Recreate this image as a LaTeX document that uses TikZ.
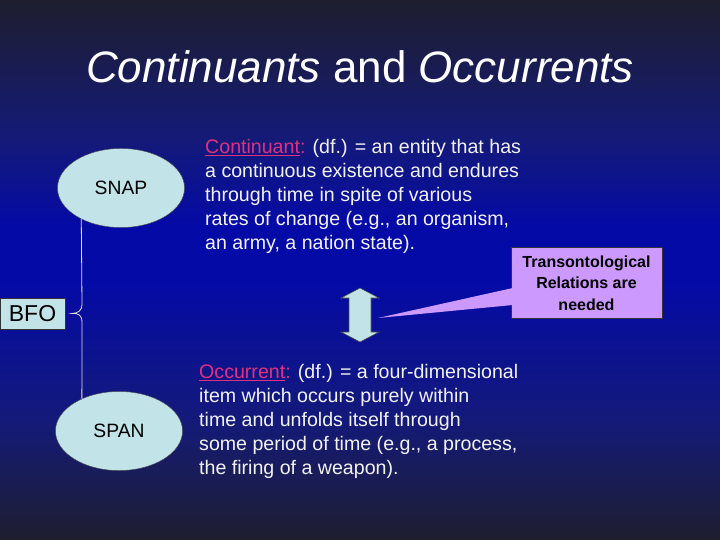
\documentclass[tikz,border=0pt]{standalone}
\usepackage{fontspec}
\setmainfont{Liberation Sans}
\usetikzlibrary{shapes.geometric,calc}
\definecolor{bgdark}{RGB}{30,30,46}
\definecolor{bgmid}{RGB}{20,26,120}
\definecolor{bgblue}{RGB}{4,10,166}
\definecolor{palecyan}{RGB}{194,228,232}
\definecolor{lilac}{RGB}{204,153,255}
\definecolor{defpink}{RGB}{226,48,128}
\definecolor{slidetext}{RGB}{242,242,242}
\pgfdeclareverticalshading{slidebg}{100bp}{color(0bp)=(bgdark); color(25bp)=(bgdark); color(36bp)=(bgmid); color(49bp)=(bgblue); color(54bp)=(bgblue); color(62bp)=(bgmid); color(75bp)=(bgdark); color(100bp)=(bgdark)}
\newcommand\defword[1]{{\color{defpink}\underline{#1}:}}
\begin{document}
\begin{tikzpicture}[x=1bp,y=-1bp,
    every node/.style={font=\fontsize{19.3bp}{24bp}\selectfont},
    slidetitle/.style={text=white,font=\fontsize{44bp}{48bp}\selectfont},
    bubble/.style={ellipse,draw=black!70,fill=palecyan,text=black,inner sep=0pt,
      minimum width=127bp,minimum height=79bp},
    rootbox/.style={draw=black!80,fill=palecyan,text=black,inner sep=0pt,
      minimum width=65bp,minimum height=31bp,font=\fontsize{23bp}{26bp}\selectfont},
    deftext/.style={anchor=north west,align=left,inner sep=0pt,text=slidetext,
      font=\fontsize{19.6bp}{24bp}\selectfont},
    note/.style={draw=black!80,fill=lilac,text=black,align=center,inner sep=0pt,
      minimum width=151bp,minimum height=71bp,font=\bfseries\fontsize{16bp}{21.5bp}\selectfont},
    bracket/.style={draw=black!12,line width=0.8bp}]
  \shade[shading=slidebg] (0,0) rectangle (720,540);
  \useasboundingbox (0,0) rectangle (720,540);

  \node[slidetitle] (title) at (360,67) {\itshape Continuants\/ \upshape and \itshape Occurrents};

  % the two ontologies
  \node[bubble] (snap) at (121,188) {SNAP};
  \node[bubble] (span) at (119,431) {SPAN};
  \node[rootbox] (bfo) at (32.5,313.5) {BFO};
  \coordinate (tip) at ($(bfo.east)+(7,0)$);
  \draw[bracket] (snap.218) -- (82,304) .. controls (82,311) and (78,313) .. (tip)
    .. controls (78,313) and (82,315) .. (82,322) -- (span.139);

  % definitions
  \node[deftext] (cont) at (205,139) {\defword{Continuant} (df.) = an entity that has\\
    a continuous existence and endures\\
    through time in spite of various\\
    rates of change (e.g., an organism,\\
    an army, a nation state).};
  \node[deftext] (occ) at (199,364) {\defword{Occurrent} (df.) = a four-dimensional\\
    item which occurs purely within\\
    time and unfolds itself through\\
    some period of time (e.g., a process,\\
    the firing of a weapon).};

  % relation between them
  \filldraw[fill=palecyan,draw=black!70,line width=0.6bp] (360,288) -- (379,298) -- (371,298)
    -- (371,332) -- (379,332) -- (360,342) -- (341,332) -- (349,332) -- (349,298)
    -- (341,298) -- cycle;
  \coordinate (link) at (378,318);
  \node[note] (callout) at (586.5,283) {Transontological\\Relations are\\needed};
  \fill[lilac] ($(callout.west |- 0,288)+(2,0)$) -- (link) -- ($(callout.west |- 0,305)+(2,0)$) -- cycle;
\end{tikzpicture}
\end{document}
